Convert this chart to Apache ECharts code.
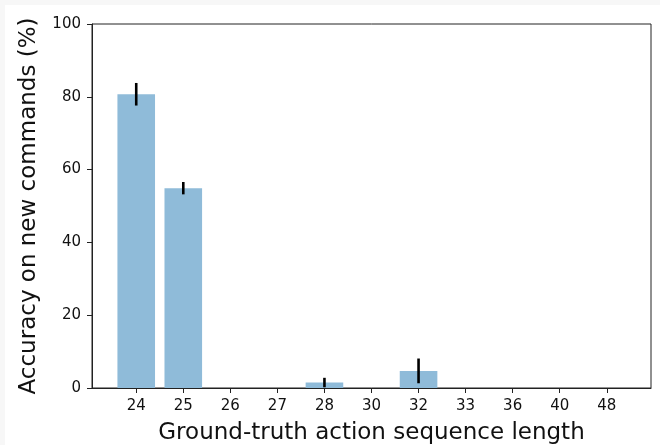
<!DOCTYPE html>
<html>
<head>
<meta charset="utf-8">
<script src="https://cdn.jsdelivr.net/npm/echarts@6/dist/echarts.min.js"></script>
<style>
  html, body { margin: 0; padding: 0; background: #f7f7f7; }
  #chart { position: absolute; left: 5px; top: 5px; width: 655px; height: 440px; background: #ffffff; }
</style>
</head>
<body>
<div id="chart"></div>
<script>
const categories = ['24', '25', '26', '27', '28', '30', '32', '33', '36', '40', '48'];
const accuracy   = [80.7, 54.9, 0, 0, 1.5, 0, 4.7, 0, 0, 0, 0];
const errors     = [3.1, 1.7, 0, 0, 1.3, 0, 3.4, 0, 0, 0, 0];
const yTicks     = [0, 20, 40, 60, 80, 100];

const font = 'DejaVu Sans';
const chart = echarts.init(document.getElementById('chart'), null, { renderer: 'canvas' });

const barData = categories.map((c, i) => [i, accuracy[i]]);
const errData = categories.map((c, i) => [i, accuracy[i] - errors[i], accuracy[i] + errors[i]])
  .filter((d, i) => errors[i] > 0);
const idx = categories.map((c, i) => i);

chart.setOption({
  animation: false,
  grid: {
    left: 87, right: 9, top: 19, bottom: 57,
    outerBoundsMode: 'none', containLabel: false,
    show: true, borderColor: '#222', borderWidth: 1, backgroundColor: 'transparent'
  },
  xAxis: {
    type: 'value',
    min: -0.94, max: 10.94,
    splitLine: { show: false },
    axisLine: { show: true, onZero: false, lineStyle: { color: '#222', width: 1 } },
    axisTick: { show: true, customValues: idx, length: 5, lineStyle: { color: '#222' } },
    axisLabel: {
      customValues: idx,
      formatter: v => categories[Math.round(v)] || '',
      fontFamily: font, fontSize: 15, color: '#111', margin: 11
    },
    name: 'Ground-truth action sequence length',
    nameLocation: 'middle', nameGap: 34,
    nameTextStyle: { fontFamily: font, fontSize: 23, color: '#111' }
  },
  yAxis: {
    type: 'value',
    min: yTicks[0], max: yTicks[yTicks.length - 1], interval: 20,
    splitLine: { show: false },
    axisLine: { show: true, onZero: false, lineStyle: { color: '#222', width: 1 } },
    axisTick: { show: true, length: 5, lineStyle: { color: '#222' } },
    axisLabel: { fontFamily: font, fontSize: 15, color: '#111', margin: 11 },
    name: 'Accuracy on new commands (%)',
    nameLocation: 'middle', nameGap: 51, nameRotate: 90,
    nameTextStyle: { fontFamily: font, fontSize: 23, color: '#111' }
  },
  series: [
    {
      type: 'bar',
      data: barData,
      barWidth: 37.6,
      itemStyle: { color: '#8fbbd9' }
    },
    {
      type: 'custom',
      data: errData,
      z: 10,
      renderItem: function (params, api) {
        const x = api.value(0);
        const lo = api.coord([x, api.value(1)]);
        const hi = api.coord([x, api.value(2)]);
        return {
          type: 'line',
          shape: { x1: lo[0], y1: lo[1], x2: hi[0], y2: hi[1] },
          style: { stroke: '#000', lineWidth: 2.6 }
        };
      }
    }
  ]
});
</script>
</body>
</html>
